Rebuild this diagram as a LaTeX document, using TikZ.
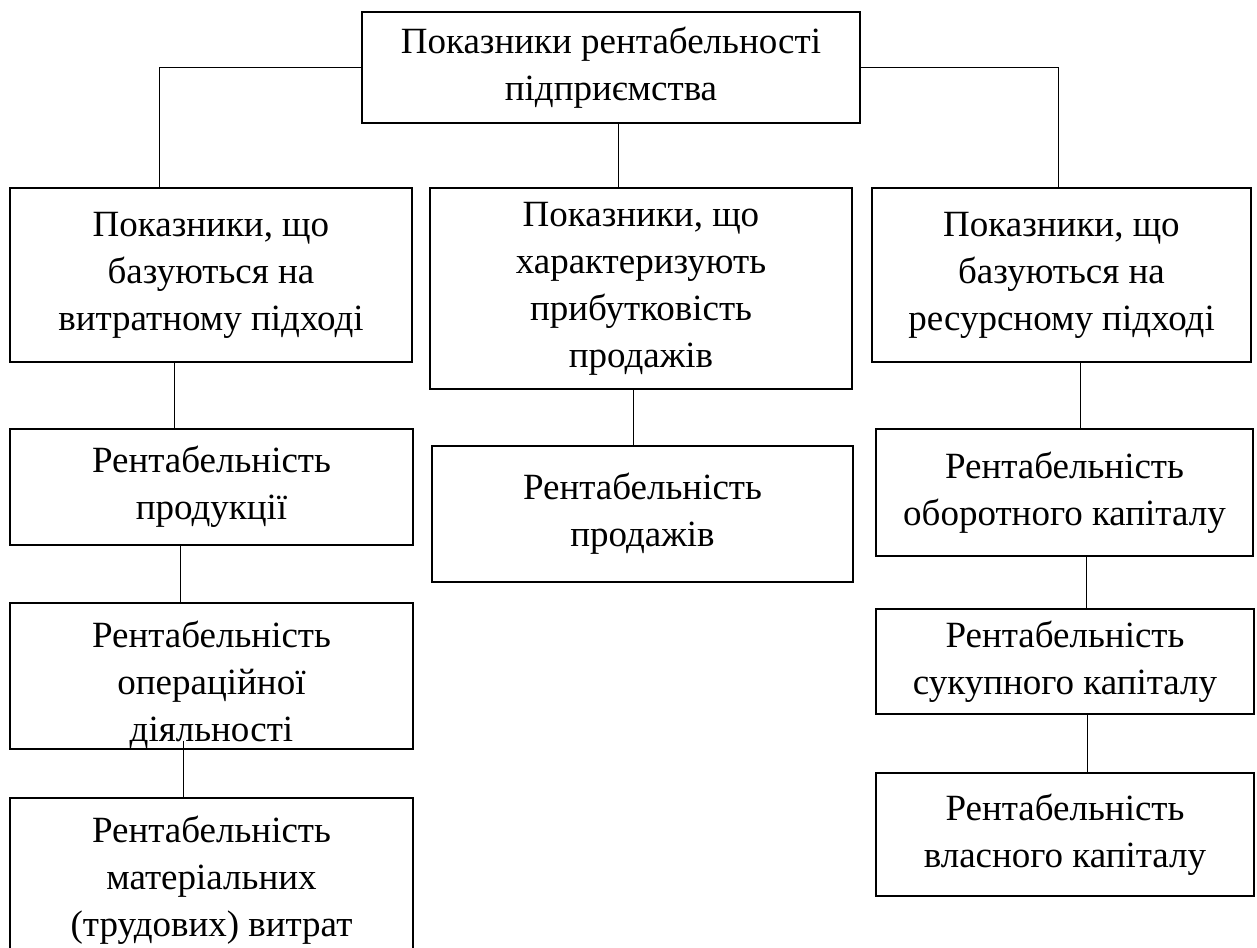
\documentclass[tikz,border=0pt]{standalone}
\usepackage{fontspec}
\setmainfont{Liberation Serif}

\begin{document}
\begin{tikzpicture}[x=1pt,y=-1pt,
  blok/.style={draw, line width=1.1pt, align=center, inner sep=0pt,
    font=\fontsize{37}{47}\selectfont},
  zv/.style={line width=1pt}]
  \useasboundingbox (0,0) rectangle (1257,947);

  % Загальний показник і три групи
  \node[blok, minimum width=498pt, minimum height=111pt] (top) at (611,67.5)
    {Показники рентабельності\\підприємства};
  \node[blok, minimum width=402pt, minimum height=174pt] (vytr) at (211,275)
    {Показники, що\\базуються на\\витратному підході};
  \node[blok, minimum width=422pt, minimum height=201pt] (prod) at (641,288.5)
    {Показники, що\\характеризують\\прибутковість\\продажів};
  \node[blok, minimum width=379pt, minimum height=174pt] (res) at (1061.5,275)
    {Показники, що\\базуються на\\ресурсному підході};

  \node[blok, minimum width=403pt, minimum height=116pt] (rprod) at (211.5,487)
    {Рентабельність\\продукції};
  \node[blok, minimum width=403pt, minimum height=146pt] (roper) at (211.5,676)
    {\rule{0pt}{44pt}Рентабельність\\операційної\\діяльності};
  \node[blok, minimum width=403pt, minimum height=164pt] (rmat) at (211.5,880)
    {Рентабельність\\матеріальних\\(трудових) витрат};
  \node[blok, minimum width=421pt, minimum height=136pt] (rprodazh) at (642.5,514)
    {Рентабельність\\продажів};
  \node[blok, minimum width=377pt, minimum height=127pt] (robor) at (1064.5,492.5)
    {Рентабельність\\оборотного капіталу};
  \node[blok, minimum width=378pt, minimum height=105pt] (rsuk) at (1065,661.5)
    {Рентабельність\\сукупного капіталу};
  \node[blok, minimum width=378pt, minimum height=123pt] (rvl) at (1065,834.5)
    {Рентабельність\\власного капіталу};

  \draw[zv] (top.west) -| ([xshift=-52pt]vytr.north);
  \draw[zv] (top.east) -| ([xshift=-3.5pt]res.north);
  \draw[zv] ([xshift=7pt]top.south) -- ([xshift=7pt]top.south |- prod.north);

  \draw[zv] ([xshift=-37pt]vytr.south) -- ([xshift=-37pt]vytr.south |- rprod.north);
  \draw[zv] ([xshift=-31.5pt]rprod.south) -- ([xshift=-31.5pt]rprod.south |- roper.north);
  \draw[zv] ([xshift=-28pt,yshift=9pt]roper.south) -- ([xshift=-28pt]roper.south |- rmat.north);
  \draw[zv] ([xshift=-8pt]prod.south) -- ([xshift=-8pt]prod.south |- rprodazh.north);
  \draw[zv] ([xshift=18.5pt]res.south) -- ([xshift=18.5pt]res.south |- robor.north);
  \draw[zv] ([xshift=21.5pt]robor.south) -- ([xshift=21.5pt]robor.south |- rsuk.north);
  \draw[zv] ([xshift=22pt]rsuk.south) -- ([xshift=22pt]rsuk.south |- rvl.north);
\end{tikzpicture}
\end{document}
